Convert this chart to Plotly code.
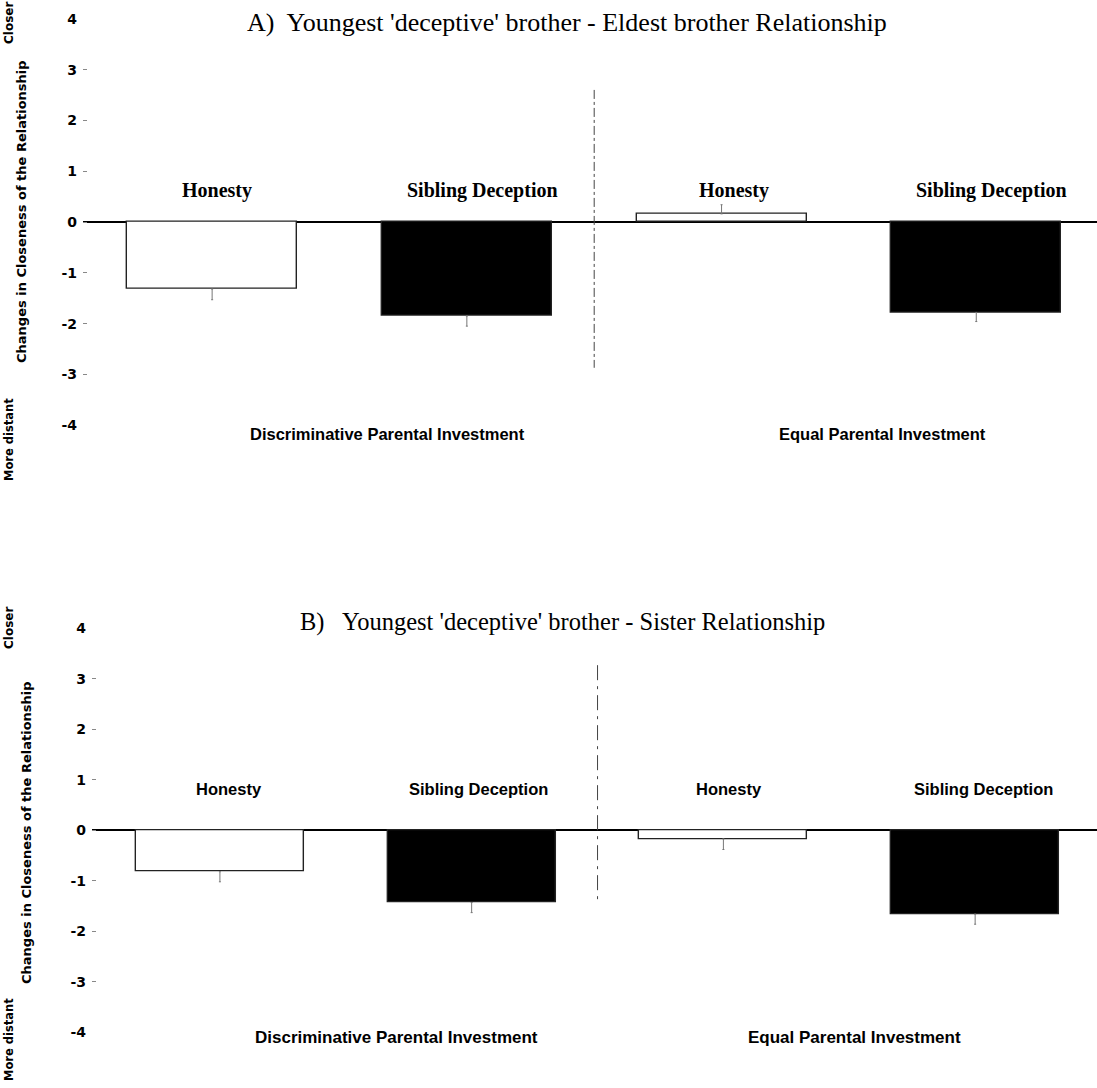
import plotly.graph_objects as go

# Conditions and investment groups
conditions = ["Honesty", "Sibling Deception", "Honesty", "Sibling Deception"]
groups = ["Discriminative Parental Investment", "Equal Parental Investment"]
bar_pos = [0, 1, 2, 3]

# Panel A: youngest 'deceptive' brother - eldest brother
mean_a = [-1.32, -1.85, 0.16, -1.78]
se_a = [0.21, 0.20, 0.18, 0.18]

# Panel B: youngest 'deceptive' brother - sister
mean_b = [-0.82, -1.43, -0.17, -1.66]
se_b = [0.20, 0.20, 0.21, 0.20]

y_ticks = [4, 3, 2, 1, 0, -1, -2, -3, -4]
title_a = "A)  Youngest 'deceptive' brother - Eldest brother Relationship"
title_b = "B)   Youngest 'deceptive' brother - Sister Relationship"

W, H = 1097, 1088
fills = ["white", "black", "white", "black"]

fig = go.Figure()


def add_panel(means, ses, xa, ya):
    # error bars only extend away from zero
    up = [s if m >= 0 else 0 for m, s in zip(means, ses)]
    down = [s if m < 0 else 0 for m, s in zip(means, ses)]
    fig.add_trace(go.Bar(
        x=bar_pos, y=means, width=0.667,
        marker=dict(color=fills, line=dict(color="#222", width=1.4)),
        error_y=dict(type="data", symmetric=False, array=up, arrayminus=down,
                     color="#777", thickness=1, width=1),
        xaxis=xa, yaxis=ya, showlegend=False, hoverinfo="skip",
    ))


add_panel(mean_a, se_a, "x", "y")
add_panel(mean_b, se_b, "x2", "y2")

yax = dict(range=[-4, 4], tickvals=y_ticks, ticktext=[str(t) for t in y_ticks],
           ticks="inside", ticklen=4, tickcolor="#888", showgrid=False,
           showline=False, zeroline=True, zerolinecolor="black", zerolinewidth=2,
           tickfont=dict(family="DejaVu Sans", size=14, color="black", weight="bold"),
           ticklabelstandoff=5, automargin=False, fixedrange=True)
xax = dict(showgrid=False, showline=False, zeroline=False, showticklabels=False,
           ticks="", automargin=False, fixedrange=True)

fig.update_layout(
    width=W, height=H,
    margin=dict(l=83, r=0, t=0, b=0, autoexpand=False),
    plot_bgcolor="white", paper_bgcolor="white",
    bargap=0,
    xaxis=dict(xax, domain=[0, 1], range=[-0.507, 3.474], anchor="y"),
    yaxis=dict(yax, domain=[0.6092, 0.9827], anchor="x"),
    xaxis2=dict(xax, domain=[0.0089, 1], range=[-0.508, 3.484], anchor="y2"),
    yaxis2=dict(yax, domain=[0.0512, 0.4225], anchor="x2"),
)

# divider between the two investment groups
mid = (bar_pos[1] + bar_pos[2]) / 2
fig.add_shape(type="line", xref="x", yref="y", x0=mid, x1=mid, y0=2.6, y1=-2.87,
              line=dict(color="#444", width=1, dash="dashdot"))
fig.add_shape(type="line", xref="x2", yref="y2", x0=mid, x1=mid, y0=3.27, y1=-1.48,
              line=dict(color="#444", width=1, dash="longdashdot"))

ann = []
serif = "Liberation Serif"
sans = "DejaVu Sans"
sans_b = "Liberation Sans"


def py(pix):
    return 1 - pix / H


def label(text, xref, yref, x, y, font, **kw):
    d = dict(text=text, xref=xref, yref=yref, x=x, y=y, showarrow=False,
             xanchor="center", yanchor="middle", font=font)
    d.update(kw)
    ann.append(d)


# panel titles
label(title_a, "paper", "paper", 0.477, py(22), dict(family=serif, size=26, color="black"))
label(title_b, "paper", "paper", 0.473, py(622), dict(family=serif, size=24.5, color="black"))

# condition labels above each bar
shift_a = [5, 16, 12, 15]
shift_b = [9, 7, 6, 8]
for p, c, sa, sb in zip(bar_pos, conditions, shift_a, shift_b):
    label(f"<b>{c}</b>", "x", "y", p, 0.63, dict(family=serif, size=20, color="black"), xshift=sa)
    label(f"<b>{c}</b>", "x2", "y2", p, 0.82, dict(family=sans_b, size=16.5, color="black"), xshift=sb)

# group labels below each panel
for g, xa_pos, xb_pos in zip(groups, [0.69, 2.63], [0.70, 2.52]):
    label(f"<b>{g}</b>", "x", "paper", xa_pos, py(434), dict(family=sans_b, size=16.5, color="black"))
    label(f"<b>{g}</b>", "x2", "paper", xb_pos, py(1037), dict(family=sans_b, size=17, color="black"))

# rotated axis captions
for yc, yt, ym, xs in [(212, 23, 440, -61), (833, 628, 1040, -57)]:
    label("<b>Changes in Closeness of the Relationship</b>", "paper", "paper", 0, py(yc),
          dict(family=sans, size=13, color="black"), xshift=xs, textangle=-90)
    label("<b>Closer</b>", "paper", "paper", 0, py(yt),
          dict(family=sans, size=12, color="black"), xshift=-74, textangle=-90)
    label("<b>More distant</b>", "paper", "paper", 0, py(ym),
          dict(family=sans, size=11.5, color="black"), xshift=-74, textangle=-90)

fig.update_layout(annotations=ann)
fig.write_html("out.html")
